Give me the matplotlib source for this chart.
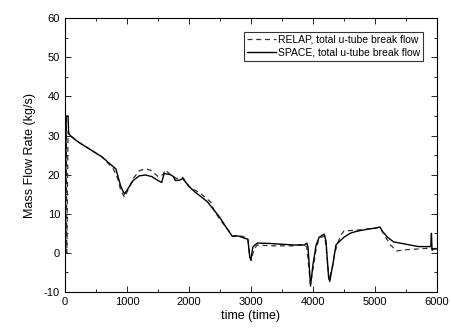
import matplotlib
matplotlib.use("Agg")
import matplotlib.pyplot as plt
from matplotlib.ticker import MultipleLocator

plt.rcParams['font.family'] = ['Liberation Sans', 'DejaVu Sans']
plt.rcParams['axes.unicode_minus'] = False

# SPACE (solid)
t_space = [0, 20, 50, 60, 100, 200, 400, 600, 780, 820, 900, 960, 1000, 1100, 1200, 1300,
           1400, 1500, 1560, 1600, 1700, 1750, 1780, 1850, 1900, 2000, 2100, 2200, 2300, 2400,
           2500, 2600, 2700, 2800, 2900, 2950, 2980, 3000, 3030, 3100, 3300, 3500, 3700, 3860,
           3900, 3920, 3960, 4000, 4050, 4100, 4180, 4210, 4250, 4270, 4320, 4370, 4400, 4500,
           4600, 4700, 4800, 4900, 5000, 5080, 5120, 5200, 5300, 5500, 5700, 5900, 5910, 5920,
           5950, 6000]
m_space = [0, 35, 35, 30.5, 29.8, 28.5, 26.5, 24.5, 22, 21.5, 17, 15, 16, 18.5, 19.7, 19.9,
           19.5, 18.5, 18, 20.3, 20, 19.5, 18.5, 18.6, 19, 17, 15.5, 14.3, 13, 11,
           9, 6.5, 4.2, 4.3, 3.7, 3.5, -1, -1.7, 1.5, 2.5, 2.4, 2.2, 2, 2,
           2.5, 1.5, -8.5, -3, 2, 4, 4.8, 3, -6, -7.3, -3, 2, 2.5, 4,
           5, 5.5, 5.8, 6.1, 6.3, 6.6, 5.5, 4, 2.8, 2.2, 1.6, 1.6, 5, 0.7,
           1, 1]

# RELAP (dashed)
t_relap = [0, 10, 20, 30, 50, 100, 200, 400, 600, 780, 850, 900, 960, 1000, 1100, 1200, 1300,
           1400, 1500, 1580, 1620, 1700, 1800, 1900, 2000, 2200, 2350, 2400, 2500, 2600, 2700,
           2800, 2900, 2950, 2980, 3000, 3050, 3100, 3300, 3500, 3700, 3860, 3900, 3960, 4000,
           4050, 4100, 4190, 4220, 4260, 4320, 4350, 4400, 4450, 4500, 4700, 4900, 5000, 5080,
           5150, 5250, 5350, 5500, 5700, 5900, 5920, 6000]
m_relap = [0, 0, 34, 0, 31, 29.8, 28.5, 26.5, 24.5, 21.5, 19, 16, 14.2, 15.5, 19, 21, 21.5,
           21, 19.5, 20, 21.2, 20, 19, 19.3, 17, 15, 13, 11, 8.5, 6.5, 4.3,
           4.5, 4, 3.5, -1, -2, 1, 2, 1.8, 1.8, 1.8, 2.2, 1.5, -8, -4,
           1, 3.8, 4.3, 0, -7, -3, 0, 2.5, 4.5, 5.6, 5.8, 6.1, 6.3, 6.6,
           4.5, 2, 0.5, 0.8, 1, 1.2, 1, 1.2]

fig, ax = plt.subplots(figsize=(4.51, 3.31), dpi=100)
fig.subplots_adjust(left=0.144, right=0.969, top=0.945, bottom=0.118)

ax.plot(t_relap, m_relap, color='#333333', linestyle='--', linewidth=0.9,
        dashes=(4, 3), label='RELAP, total u-tube break flow')
ax.plot(t_space, m_space, color='black', linestyle='-', linewidth=1.0,
        label='SPACE, total u-tube break flow')

ax.set_xlim(0, 6000)
ax.set_ylim(-10, 60)
ax.xaxis.set_major_locator(MultipleLocator(1000))
ax.xaxis.set_minor_locator(MultipleLocator(500))
ax.yaxis.set_major_locator(MultipleLocator(10))
ax.yaxis.set_minor_locator(MultipleLocator(5))
ax.tick_params(which='both', direction='in', top=True, right=True, labelsize=8)
ax.tick_params(which='major', length=4, width=0.6)
ax.tick_params(which='minor', length=2, width=0.6)
for s in ax.spines.values():
    s.set_linewidth(0.8)

ax.set_xlabel('time (time)', fontsize=9, labelpad=2)
ax.set_ylabel('Mass Flow Rate (kg/s)', fontsize=9, labelpad=6)

leg = ax.legend(loc='upper right', fontsize=7.5, frameon=True, fancybox=False,
                edgecolor='black', handlelength=2.8, borderaxespad=1.3,
                borderpad=0.3, labelspacing=0.25, handletextpad=0.2)
leg.get_frame().set_linewidth(0.8)

fig.savefig('out.png', dpi=100)
